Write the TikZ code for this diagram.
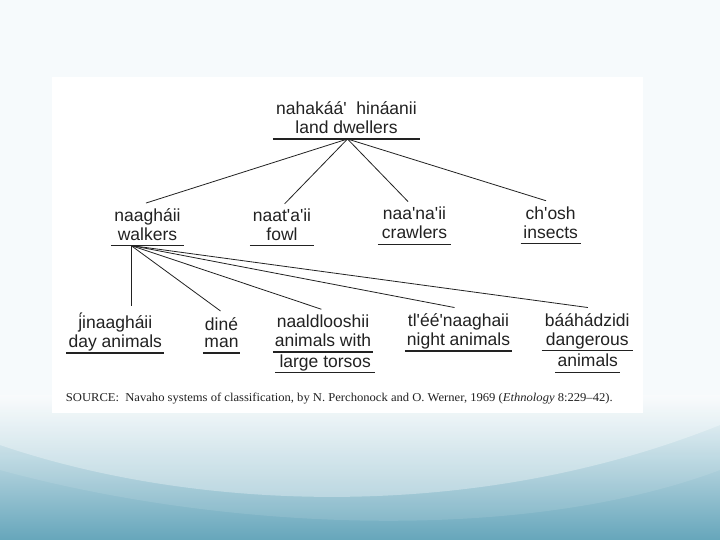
\documentclass[tikz,border=0pt]{standalone}
\usepackage{fontspec}
\usetikzlibrary{calc}
\newfontfamily\arialf{Liberation Sans}
\newfontfamily\timesf[FakeStretch=1.05]{Liberation Serif}
\definecolor{ink}{HTML}{222222}
\definecolor{bgtop}{HTML}{F6FAFC}
\definecolor{bgmid}{HTML}{B4D6E1}
\definecolor{bgbot}{HTML}{66A6BB}
\begin{document}
\begin{tikzpicture}[x=1pt,y=-1pt,
  lbl/.style={font=\arialf\fontsize{17.5}{17.5}\selectfont, text=ink, align=center,
              inner sep=0pt, anchor=south},
  uline/.style={draw=ink, line width=1.1pt},
  conn/.style={draw=ink, line width=0.8pt}]
\useasboundingbox (0,0) rectangle (720,540);
% background
\fill[bgtop] (0,0) rectangle (720,540);
\shade[top color=bgtop, middle color=bgmid, bottom color=bgbot] (0,395) rectangle (720,540);
\fill[white, opacity=0.32] (0,395) -- (0,445) .. controls (190,510) and (470,525) .. (720,425) -- (720,395) -- cycle;
\fill[white, opacity=0.10] (0,395) -- (0,470) .. controls (220,530) and (520,545) .. (720,470) -- (720,395) -- cycle;
% panel
\fill[white] (52,77) rectangle (643,413);

% level 1
\node[lbl, minimum width=147] (root) at (346.5,139) {\strut nahakáá'~ hináanii\\\strut land dwellers};
% level 2
\node[lbl, minimum width=73] (walk) at (147.5,245.5) {\strut naagháii\\\strut walkers};
\node[lbl, minimum width=64] (fowl) at (282,245.5) {\strut naat'a'ii\\\strut fowl};
\node[lbl, minimum width=73] (crawl) at (414.5,244.3) {\strut naa'na'ii\\\strut crawlers};
\node[lbl, minimum width=60] (insect) at (550.7,243.7) {\strut ch'osh\\\strut insects};
% level 3
\node[lbl, minimum width=97.4] (jin) at (115.3,353) {\strut j́inaagháii\\\strut day animals};
\node[lbl, minimum width=37] (dine) at (221.5,353) {\strut diné\\\strut man};
\node[lbl, minimum width=100] (naal) at (323,352) {\strut naaldlooshii\\\strut animals with};
\node[lbl, minimum width=99.5] (naalb) at (325.25,372.5) {\strut large torsos};
\node[lbl, minimum width=107] (tlee) at (458.5,351) {\strut tl'éé'naaghaii\\\strut night animals};
\node[lbl, minimum width=91] (baa) at (587.2,350.5) {\strut bááhádzidi\\\strut dangerous};
\node[lbl, minimum width=64.5] (baab) at (587.75,372.3) {\strut animals};

\foreach \n in {root,walk,fowl,crawl,insect,jin,dine,naal,naalb,tlee,baa,baab}
  \draw[uline] (\n.south west) -- (\n.south east);

% connectors from root
\coordinate (rootc) at ($(root.south)+(1,0)$);
\draw[conn] (rootc) -- ($(walk.north)+(-1.5,-5)$);
\draw[conn] (rootc) -- ($(fowl.north)+(2.7,-4.5)$);
\draw[conn] (rootc) -- ($(crawl.north)+(-6.5,-5.5)$);
\draw[conn] (rootc) -- ($(insect.north)+(-4.7,-5.7)$);
% connectors from walkers
\coordinate (walkc) at ($(walk.south)+(-16.5,0)$);
\draw[conn] (walkc) -- ($(jin.north)+(15.7,-6)$);
\draw[conn] (walkc) -- ($(dine.north)+(-1,-6)$);
\draw[conn] (walkc) -- ($(naal.north)+(-1.6,-5.5)$);
\draw[conn] (walkc) -- ($(tlee.north)+(-4,-6)$);
\draw[conn] (walkc) -- ($(baa.north)+(0.7,-5.5)$);

% source
\node[font=\timesf\fontsize{12}{14}\selectfont, text=ink, anchor=base west, inner sep=0pt] (src) at (65.7,401)
  {SOURCE:\ \ Navaho systems of classification, by N. Perchonock and O. Werner, 1969 (\textit{Ethnology} 8:229–42).};
\end{tikzpicture}
\end{document}
